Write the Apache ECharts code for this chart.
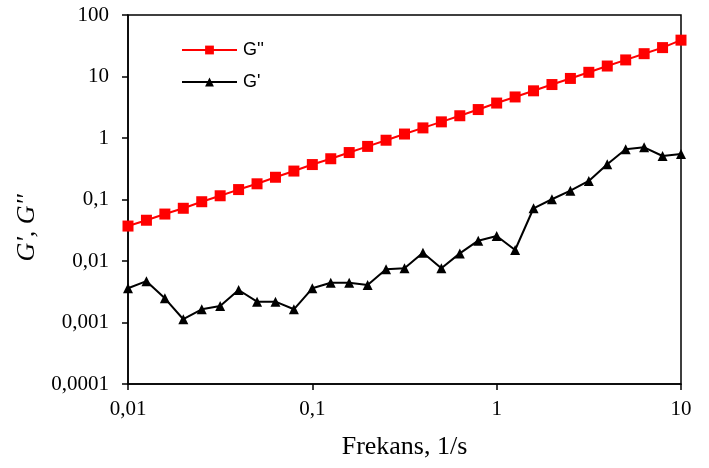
<!DOCTYPE html>
<html>
<head>
<meta charset="utf-8">
<script src="https://cdn.jsdelivr.net/npm/echarts@6/dist/echarts.min.js"></script>
<style>html,body{margin:0;padding:0;background:#fff;}#c{width:709px;height:468px;}</style>
</head>
<body>
<div id="c"></div>
<script>
const freq = [0.01,0.01259,0.01585,0.01995,0.02512,0.03162,0.03981,0.05012,0.0631,0.07943,
  0.1,0.1259,0.1585,0.1995,0.2512,0.3162,0.3981,0.5012,0.631,0.7943,
  1,1.259,1.585,1.995,2.512,3.162,3.981,5.012,6.31,7.943,10];
const gDoublePrime = [0.037,0.046,0.058,0.072,0.092,0.115,0.145,0.18,0.23,0.29,
  0.37,0.46,0.58,0.73,0.92,1.16,1.46,1.83,2.3,2.9,
  3.7,4.65,5.85,7.4,9.3,11.7,14.8,18.6,23.5,29.5,39];
const gPrime = [0.0036,0.0047,0.00247,0.00113,0.00164,0.00185,0.00338,0.00218,0.00218,0.00164,
  0.0036,0.00444,0.00444,0.00407,0.00733,0.0076,0.0136,0.0076,0.0133,0.0214,
  0.0255,0.0151,0.072,0.101,0.139,0.2,0.373,0.655,0.706,0.51,0.55];
const xTitle = 'Frekans, 1/s';
const yTitle = "G', G''";

const fmt = v => Number(Number(v).toPrecision(6)).toString().replace('.', ',');
const chart = echarts.init(document.getElementById('c'));
chart.setOption({
  animation: false,
  backgroundColor: '#fff',
  grid: {left: 128, right: 28, top: 15, bottom: 84, show: true, borderColor: '#000', borderWidth: 1.5, backgroundColor: 'transparent'},
  legend: {
    orient: 'vertical', left: 176, top: 36, itemWidth: 55, itemHeight: 11, itemGap: 14,
    textStyle: {fontFamily: 'Liberation Sans', fontSize: 18, color: '#000', padding: [0, 0, 0, 1]},
    data: ["G''", "G'"]
  },
  xAxis: {
    type: 'log', logBase: 10, min: 0.01, max: 10,
    axisLine: {lineStyle: {color: '#000', width: 1.5}},
    axisTick: {show: true, length: 6, lineStyle: {color: '#000', width: 1.5}},
    minorTick: {show: false},
    splitLine: {show: false},
    axisLabel: {formatter: fmt, fontFamily: 'Liberation Serif', fontSize: 21, color: '#000', margin: 15},
    name: xTitle, nameLocation: 'middle', nameGap: 50,
    nameTextStyle: {fontFamily: 'Liberation Serif', fontSize: 26, color: '#000'}
  },
  yAxis: {
    type: 'log', logBase: 10, min: 0.0001, max: 100,
    axisLine: {lineStyle: {color: '#000', width: 1.5}},
    axisTick: {show: true, length: 6, lineStyle: {color: '#000', width: 1.5}},
    splitLine: {show: false},
    axisLabel: {formatter: fmt, fontFamily: 'Liberation Serif', fontSize: 21, color: '#000', margin: 19}
  },
  graphic: [{
    type: 'text', x: 27, y: 228, rotation: Math.PI / 2,
    style: {text: yTitle, font: 'italic 26px "Liberation Serif"', fill: '#000', textAlign: 'center', textVerticalAlign: 'middle'}
  }],
  series: [
    {
      name: "G''", type: 'line', data: freq.map((f, i) => [f, gDoublePrime[i]]),
      symbol: 'rect', symbolSize: 11, itemStyle: {color: '#ff0000'},
      lineStyle: {color: '#ff0000', width: 2}, z: 3
    },
    {
      name: "G'", type: 'line', data: freq.map((f, i) => [f, gPrime[i]]),
      symbol: 'triangle', symbolSize: 10, itemStyle: {color: '#000'},
      lineStyle: {color: '#000', width: 2}, z: 2
    }
  ]
});
</script>
</body>
</html>
